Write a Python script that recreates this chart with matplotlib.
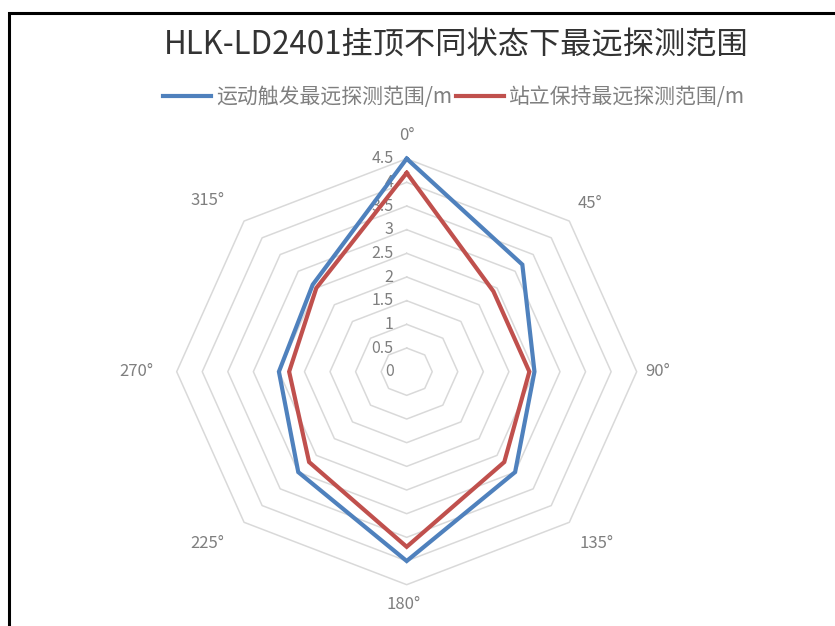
import numpy as np
import matplotlib.pyplot as plt
from matplotlib.patches import Rectangle
from matplotlib.transforms import offset_copy

plt.rcParams['font.family'] = ['Noto Sans CJK SC', 'DejaVu Sans']

# chart data
title = 'HLK-LD2401挂顶不同状态下最远探测范围'
angle_labels = ['0°', '45°', '90°', '135°', '180°', '225°', '270°', '315°']
series_names = ['运动触发最远探测范围/m', '站立保持最远探测范围/m']
motion_range = [4.5, 3.2, 2.5, 3.0, 4.0, 3.0, 2.5, 2.6]
standing_range = [4.2, 2.4, 2.4, 2.7, 3.7, 2.7, 2.3, 2.5]
r_ticks = [0, 0.5, 1, 1.5, 2, 2.5, 3, 3.5, 4, 4.5]
r_tick_labels = ['0', '0.5', '1', '1.5', '2', '2.5', '3', '3.5', '4', '4.5']
colors = ['#4F81BD', '#C0504D']

theta = np.deg2rad(np.arange(len(angle_labels)) * 360 / len(angle_labels))
theta_closed = np.append(theta, theta[0])

fig = plt.figure(figsize=(8.35, 6.26), dpi=100)
ax = fig.add_axes([0.2116, 0.066, 0.5509, 0.6805], projection='polar')
ax.set_aspect('auto')
ax.set_theta_zero_location('N')
ax.set_theta_direction(-1)
ax.set_ylim(0, r_ticks[-1])
ax.grid(False)
ax.spines['polar'].set_visible(False)
ax.set_yticks([])
ax.set_xticks(theta)
ax.set_xticklabels([])
ax.tick_params(axis='x', length=0)

# angle labels sit outside the outer ring (pixel offsets from each vertex)
label_offsets = [(0, 23), (21, 18), (21, 0), (27, -21),
                 (-3, -20), (-37, -21), (-40, 0), (-37, 21)]
for t, lab, off in zip(theta, angle_labels, label_offsets):
    ax.annotate(lab, xy=(t, r_ticks[-1]), xytext=off, textcoords='offset pixels',
                ha='center', va='center', fontsize=12, color='#7f7f7f',
                annotation_clip=False)

# octagon grid rings
for r in r_ticks[1:]:
    ax.plot(theta_closed, [r] * len(theta_closed), color='#d9d9d9', lw=1.1,
            zorder=1, clip_on=False)

# radial value labels, just left of the 0° axis
label_tf = offset_copy(ax.transData, fig=fig, x=-13, y=0, units='dots')
for r, lab in zip(r_ticks, r_tick_labels):
    ax.text(0, r, lab, transform=label_tf, ha='right', va='center',
            fontsize=11.5, color='#7f7f7f', zorder=2)

handles = []
for vals, c in zip([motion_range, standing_range], colors):
    h, = ax.plot(theta_closed, vals + vals[:1], color=c, lw=3, zorder=3,
                 clip_on=False, solid_joinstyle='miter')
    handles.append(h)

fig.legend(handles, series_names, loc='center', bbox_to_anchor=(0.5437, 0.845),
           ncol=2, frameon=False, fontsize=15, handlelength=2.3,
           handletextpad=0.25, columnspacing=0.2, labelcolor='#7f7f7f')

fig.text(0.546, 0.928, title, ha='center', va='center', fontsize=22.5, color='#333333')

# outer frame, cut off at the right and bottom edges
frame = Rectangle((9 / 835, -0.1), 1.2, 0.1 + (1 - 13 / 626), transform=fig.transFigure,
                  fill=False, ec='black', lw=2.2)
fig.add_artist(frame)

fig.savefig('out.png', dpi=100)
